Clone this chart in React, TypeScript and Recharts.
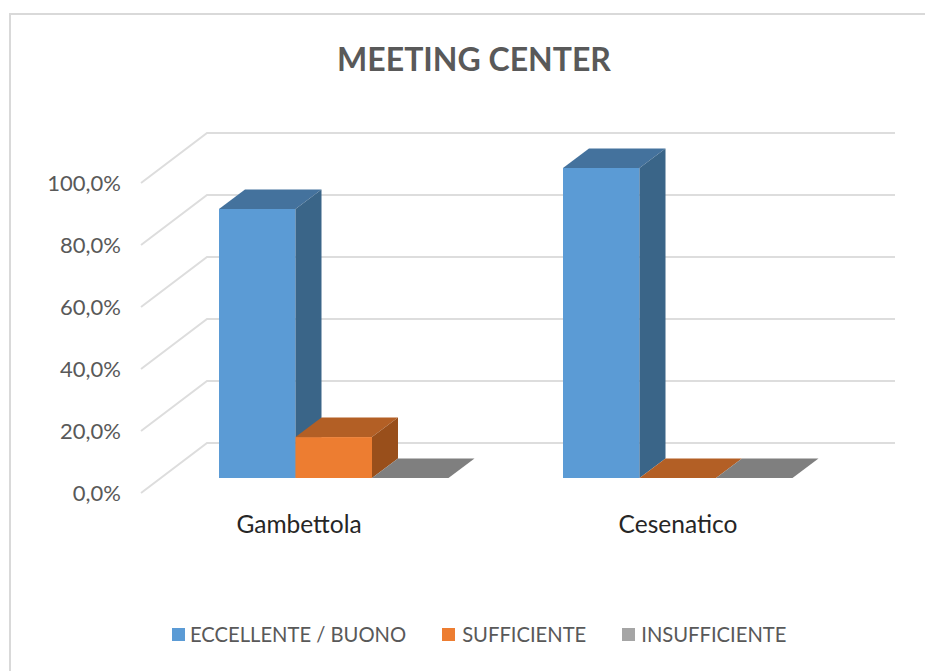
import React from 'react';
import { BarChart, Bar, XAxis, YAxis, Legend, CartesianGrid } from 'recharts';

const categories = ['Gambettola', 'Cesenatico'];
const eccellente = [86.8, 100];
const sufficiente = [13.2, 0];
const insufficiente = [0, 0];
const yTicks = [0, 20, 40, 60, 80, 100];

const data = categories.map((name, i) => ({
  name,
  eccellente: eccellente[i],
  sufficiente: sufficiente[i],
  insufficiente: insufficiente[i],
}));

const FONT = 'Lato, sans-serif';
const GRID = '#DDDDDD';

// fake 3D extrusion, same depth on every bar
const DEPTH_X = 26;
const DEPTH_Y = 19.5;

const makeBar3D = (front: string, top: string, side: string) => (props: any) => {
  const { x, y, width, height } = props;
  const r = x + width;
  const b = y + height;
  return (
    <g>
      <rect x={x} y={y} width={width} height={height} fill={front} />
      <polygon points={`${x},${y} ${r},${y} ${r + DEPTH_X},${y - DEPTH_Y} ${x + DEPTH_X},${y - DEPTH_Y}`} fill={top} />
      <polygon points={`${r},${y} ${r + DEPTH_X},${y - DEPTH_Y} ${r + DEPTH_X},${b - DEPTH_Y} ${r},${b}`} fill={side} />
    </g>
  );
};

// floor diagonal + line on the back wall, y comes from the axis scale
const wallLine = (props: any) => {
  const y = props.y1;
  return (
    <polyline key={props.key ?? y} points={`141,${y + 15} 207,${y - 35} 895,${y - 35}`} fill="none" stroke={GRID} strokeWidth={2} />
  );
};

const ValueTick = (props: any) => {
  const { y, payload } = props;
  const label = payload.value.toFixed(1).replace('.', ',') + '%';
  return (
    <text x={121} y={y + 23} textAnchor="end" fontFamily={FONT} fontSize={22} fill="#595959">{label}</text>
  );
};

const labelShift: Record<string, number> = { Gambettola: -35, Cesenatico: 0 };

const CategoryTick = (props: any) => {
  const { x, payload } = props;
  return (
    <text x={x + labelShift[payload.value]} y={533} textAnchor="middle" fontFamily={FONT} fontSize={24.5} fill="#262626">
      {payload.value}
    </text>
  );
};

const iconGaps = [5, 7, 6];

const LegendContent = (props: any) => (
  <div style={{ display: 'flex', alignItems: 'center', fontFamily: FONT, fontSize: 20.2, color: '#595959', whiteSpace: 'nowrap' }}>
    {props.payload.map((p: any, i: number) => (
      <div key={p.value} style={{ display: 'flex', alignItems: 'center', marginRight: 36 }}>
        <span style={{ width: 13, height: 13, background: p.color, marginRight: iconGaps[i], display: 'inline-block' }} />
        <span>{p.value}</span>
      </div>
    ))}
  </div>
);

export default function App() {
  return (
    <div style={{ position: 'absolute', left: 0, top: 0, width: 925, height: 671, overflow: 'hidden', background: '#fff' }}>
      <div style={{ position: 'absolute', left: 9, top: 13, right: 0, bottom: 0, borderLeft: '2px solid #D9D9D9', borderTop: '2px solid #D9D9D9' }} />
      <div style={{ position: 'absolute', left: 0, width: 948, top: 38, textAlign: 'center', fontFamily: FONT, fontWeight: 700, fontSize: 32, lineHeight: '42px', color: '#595959' }}>
        MEETING CENTER
      </div>
      <BarChart
        width={925}
        height={671}
        data={data}
        margin={{ top: 168, right: 75, bottom: 0, left: 0 }}
        barCategoryGap={57.25}
        barGap={0}
        style={{ position: 'absolute', left: 0, top: 0 }}
      >
        <CartesianGrid vertical={false} horizontal={wallLine} />
        <YAxis width={162} domain={[0, 100]} ticks={yTicks} axisLine={false} tickLine={false} tick={<ValueTick />} interval={0} />
        <XAxis dataKey="name" height={193} axisLine={false} tickLine={false} tick={<CategoryTick />} interval={0} />
        <Bar dataKey="eccellente" name="ECCELLENTE / BUONO" fill="#5B9BD5" barSize={76.5} isAnimationActive={false} shape={makeBar3D('#5B9BD5', '#44729D', '#3A6588')} />
        <Bar dataKey="sufficiente" name="SUFFICIENTE" fill="#ED7D31" barSize={76.5} isAnimationActive={false} shape={makeBar3D('#ED7D31', '#B35F25', '#994F1B')} />
        <Bar dataKey="insufficiente" name="INSUFFICIENTE" fill="#A5A5A5" barSize={76.5} isAnimationActive={false} shape={makeBar3D('#A5A5A5', '#7F7F7F', '#6B6B6B')} />
        <Legend
          layout="horizontal"
          verticalAlign="middle"
          align="center"
          itemSorter={null}
          content={<LegendContent />}
          wrapperStyle={{ position: 'absolute', left: 172, top: 622, width: 700, height: 26 }}
        />
      </BarChart>
    </div>
  );
}
